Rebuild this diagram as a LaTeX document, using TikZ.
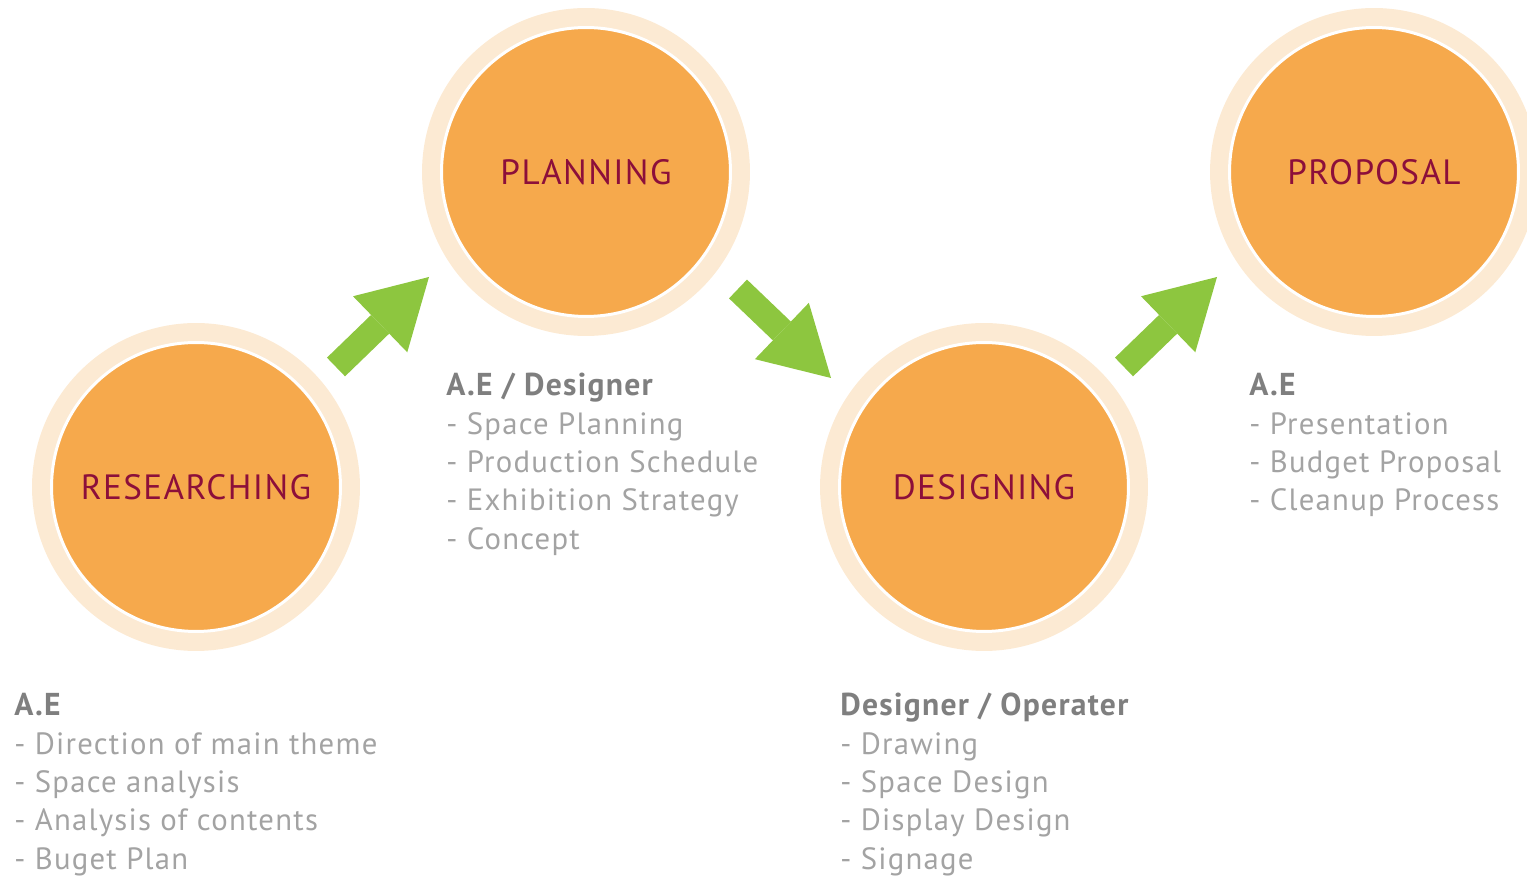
\documentclass[tikz,border=0pt]{standalone}
\usepackage{fontspec}
\setmainfont[LetterSpace=4.0]{PT Sans}
\usetikzlibrary{arrows.meta}
\definecolor{stageorange}{HTML}{F6A94C}
\definecolor{stagering}{HTML}{FCEAD3}
\definecolor{stagetext}{HTML}{8C0F3A}
\definecolor{flowgreen}{HTML}{8DC63F}
\definecolor{headgray}{HTML}{7F7F7F}
\definecolor{itemgray}{HTML}{A3A3A3}
\tikzset{
  stage/.style={circle, fill=stageorange, draw=white, line width=0.06cm,
    minimum size=5.78cm, inner sep=0pt, text=stagetext,
    font=\fontsize{20}{22}\selectfont,
    preaction={draw=stagering, line width=0.78cm}},
  flow/.style={flowgreen, line width=0.52cm,
    -{Triangle[width=1.56cm,length=1.36cm,line width=0pt]}},
  head/.style={anchor=base west, inner sep=0pt, text=headgray,
    font=\fontsize{18}{20}\selectfont\bfseries},
  entry/.style={anchor=base west, inner sep=0pt, text=itemgray,
    font=\fontsize{17.5}{20}\selectfont},
}
\begin{document}
\begin{tikzpicture}[x=0.02cm, y=0.02cm]
\useasboundingbox (0,0) rectangle (1527,875);
% stages
\node[stage] (rese) at (196,388) {RESEARCHING};
\node[stage] (plan) at (586,703) {PLANNING};
\node[stage] (desi) at (984,388) {DESIGNING};
\node[stage] (prop) at (1374,703) {PROPOSAL};
% arrows between stages
\draw[flow] ([shift={(140,120)}]rese.center) -- ([shift={(-157,-105)}]plan.center);
\draw[flow] ([shift={(152,-117)}]plan.center) -- ([shift={(-153,109)}]desi.center);
\draw[flow] ([shift={(140,120)}]desi.center) -- ([shift={(-157,-105)}]prop.center);
% notes
\node[head] (resehead) at (14,159) {A.E};
\foreach \entrytext [count=\i] in {Direction of main theme, Space analysis, Analysis of contents, Buget Plan}
  \node[entry] (reseentry\i) at (14,159-38.3*\i) {- \entrytext};
\node[head] (planhead) at (446,479) {A.E / Designer};
\foreach \entrytext [count=\i] in {Space Planning, Production Schedule, Exhibition Strategy, Concept}
  \node[entry] (planentry\i) at (446,479-38.3*\i) {- \entrytext};
\node[head] (desihead) at (840,159) {Designer / Operater};
\foreach \entrytext [count=\i] in {Drawing, Space Design, Display Design, Signage}
  \node[entry] (desientry\i) at (840,159-38.3*\i) {- \entrytext};
\node[head] (prophead) at (1249,479) {A.E};
\foreach \entrytext [count=\i] in {Presentation, Budget Proposal, Cleanup Process}
  \node[entry] (propentry\i) at (1249,479-38.3*\i) {- \entrytext};
\end{tikzpicture}
\end{document}
